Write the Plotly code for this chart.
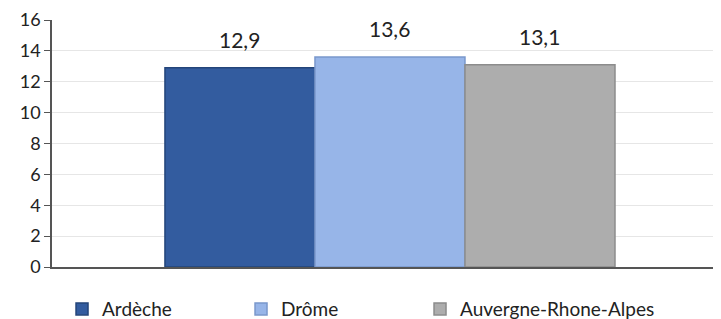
import plotly.graph_objects as go

series_names = ["Ardèche", "Drôme", "Auvergne-Rhone-Alpes"]
values = [12.9, 13.6, 13.1]
value_labels = ["12,9", "13,6", "13,1"]
colors = ["#335C9F", "#97B5E8", "#ADADAD"]
edge_colors = ["#24457A", "#7A98CC", "#8C8C8C"]
legend_widths = [134, 134, 230]
y_ticks = [0, 2, 4, 6, 8, 10, 12, 14, 16]

fig = go.Figure()
for i, (name, v, c, ec, lw) in enumerate(zip(series_names, values, colors, edge_colors, legend_widths)):
    fig.add_trace(go.Bar(
        x=[i], y=[v], name=name, width=1,
        marker=dict(color=c, line=dict(color=ec, width=1.5)),
        legendwidth=lw,
    ))
    fig.add_annotation(x=i, y=v, text=value_labels[i], showarrow=False,
                       yanchor="bottom", yshift=14,
                       font=dict(size=21, color="#222222"))

# page body has a default 8px margin, so the figure is sized to fit the window
fig.update_layout(
    width=713, height=311,
    margin=dict(l=44, r=1, t=12, b=52),
    paper_bgcolor="white", plot_bgcolor="white",
    barmode="overlay",
    font=dict(family="Lato, Open Sans, sans-serif", size=17, color="#222222"),
    showlegend=True,
    legend=dict(orientation="h", x=0.015, xanchor="left", yref="container",
                y=0.093, yanchor="top",
                font=dict(size=19), itemwidth=30, tracegroupgap=0),
    xaxis=dict(range=[-1.253, 3.2], showticklabels=False, showline=True,
               linecolor="#555555", linewidth=1.5, ticks="", showgrid=False,
               zeroline=False),
    yaxis=dict(range=[0, 16], tickvals=y_ticks, showline=True, linecolor="#555555",
               linewidth=1.5, ticks="outside", ticklen=6, tickcolor="#555555",
               gridcolor="#E6E6E6", gridwidth=1, zeroline=False,
               tickfont=dict(size=18), ticklabeloverflow="allow", automargin=False),
)

fig.write_html("out.html")
